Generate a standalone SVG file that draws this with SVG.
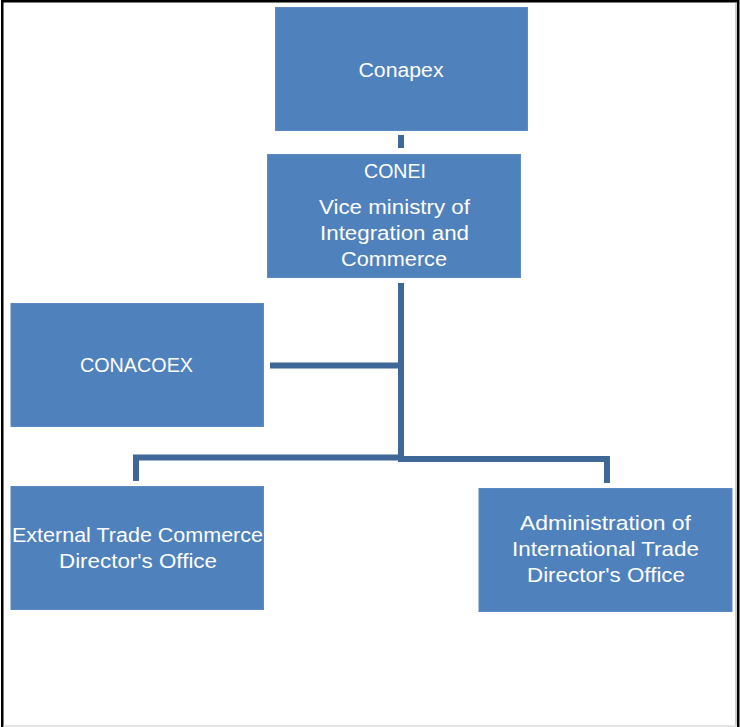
<svg xmlns="http://www.w3.org/2000/svg" width="740" height="727" viewBox="0 0 740 727">
<style>
.box{fill:#4F81BD;stroke:#5B8AC4;stroke-width:1}
.t{font-family:"Liberation Sans",Arial,sans-serif;font-size:20px;fill:#FFFFFF;text-anchor:middle}
.c{fill:none;stroke:#3F6798;stroke-width:6;stroke-linejoin:miter}
</style>
<rect x="0" y="0" width="740" height="727" fill="#FFFFFF"/>
<g id="frame">
<rect x="1" y="0" width="2.5" height="727" fill="#000"/>
<rect x="1" y="0" width="738" height="2.5" fill="#000"/>
<rect x="737" y="0" width="2.5" height="727" fill="#000"/>
<rect x="735.5" y="2" width="1" height="723" fill="#999"/>
<rect x="3.5" y="725" width="733" height="2" fill="#E4E4E4"/>
</g>
<g id="connectors">
<line class="c" x1="401" y1="135" x2="401" y2="148"/>
<polyline class="c" points="401,283 401,459 607,459 607,483"/>
<polyline class="c" points="270,365.5 401,365.5"/>
<polyline class="c" points="401,457.5 136,457.5 136,481"/>
</g>
<g id="conapex">
<rect class="box" x="275.5" y="7.5" width="252" height="123"/>
<text class="t" x="401" y="77" textLength="85" lengthAdjust="spacingAndGlyphs">Conapex</text>
</g>
<g id="conei">
<rect class="box" x="267.5" y="154.5" width="253" height="123"/>
<text class="t" x="395" y="178" textLength="62" lengthAdjust="spacingAndGlyphs">CONEI</text>
<text class="t" x="394.5" y="214" textLength="151" lengthAdjust="spacingAndGlyphs">Vice ministry of</text>
<text class="t" x="394.5" y="240" textLength="149" lengthAdjust="spacingAndGlyphs">Integration and</text>
<text class="t" x="394" y="266" textLength="106" lengthAdjust="spacingAndGlyphs">Commerce</text>
</g>
<g id="conacoex">
<rect class="box" x="11" y="303.5" width="252.5" height="123"/>
<text class="t" x="136.5" y="372" textLength="113" lengthAdjust="spacingAndGlyphs">CONACOEX</text>
</g>
<g id="external-trade">
<rect class="box" x="11" y="486.5" width="252.5" height="123"/>
<text class="t" x="137.5" y="542" textLength="251" lengthAdjust="spacingAndGlyphs">External Trade Commerce</text>
<text class="t" x="138" y="568" textLength="158" lengthAdjust="spacingAndGlyphs">Director's Office</text>
</g>
<g id="administration">
<rect class="box" x="479" y="488.5" width="253" height="123"/>
<text class="t" x="605.5" y="530" textLength="171" lengthAdjust="spacingAndGlyphs">Administration of</text>
<text class="t" x="605.5" y="556" textLength="187" lengthAdjust="spacingAndGlyphs">International Trade</text>
<text class="t" x="606" y="582" textLength="158" lengthAdjust="spacingAndGlyphs">Director's Office</text>
</g>
</svg>
